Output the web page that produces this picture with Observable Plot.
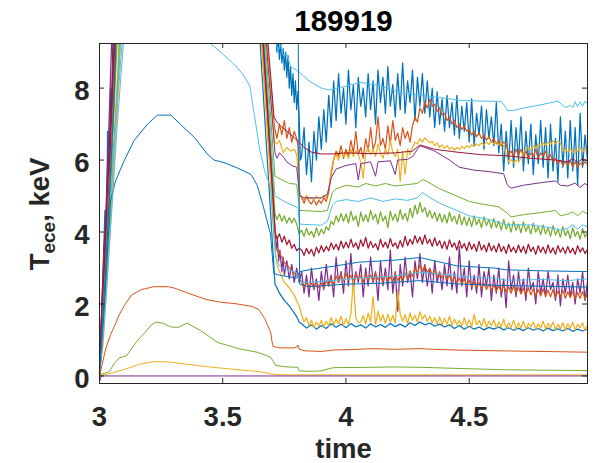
<!DOCTYPE html>
<html><head><meta charset="utf-8">
<script src="https://cdn.jsdelivr.net/npm/d3@7"></script>
<script src="https://cdn.jsdelivr.net/npm/@observablehq/plot@0.6"></script>
<style>body{margin:0;background:#fff;}</style>
</head><body><div id="chart"></div>
<script>
// ---------- tick labels / palette ----------
const xTicks = [3, 3.5, 4, 4.5];
const yTicks = [0, 2, 4, 6, 8];
const palette = ["#0072BD","#D95319","#EDB120","#7E2F8E","#77AC30","#4DBEEE","#A2142F"];

// ---------- sample times of the noisy part ----------
const tFine = [
3.82,3.83,3.84,3.85,3.86,3.87,3.88,3.89,
3.90,3.91,3.92,3.93,3.94,3.95,3.96,3.97,3.98,3.99,
4.00,4.01,4.02,4.03,4.04,4.05,4.06,4.07,4.08,4.09,
4.10,4.11,4.12,4.13,4.14,4.15,4.16,4.17,4.18,4.19,
4.20,4.21,4.22,4.23,4.24,4.25,4.26,4.27,4.28,4.29,
4.30,4.31,4.32,4.33,4.34,4.35,4.36,4.37,4.38,4.39,
4.40,4.41,4.42,4.43,4.44,4.45,4.46,4.47,4.48,4.49,
4.50,4.51,4.52,4.53,4.54,4.55,4.56,4.57,4.58,4.59,
4.60,4.61,4.62,4.63,4.64,4.65,4.66,4.67,4.68,4.69,
4.70,4.71,4.72,4.73,4.74,4.75,4.76,4.77,4.78,4.79,
4.80,4.81,4.82,4.83,4.84,4.85,4.86,4.87,4.88,4.89,
4.90,4.91,4.92,4.93,4.94,4.95,4.96,4.97,4.98];
const tCoarse = [
3.82,3.84,3.86,3.88,3.90,3.92,3.94,3.96,3.98,4.00,
4.02,4.04,4.06,4.08,4.10,4.12,4.14,4.16,4.18,4.20,
4.22,4.24,4.26,4.28,4.30,4.32,4.34,4.36,4.38,4.40,
4.42,4.44,4.46,4.48,4.50,4.52,4.54,4.56,4.58,4.60,
4.62,4.64,4.66,4.68,4.70,4.72,4.74,4.76,4.78,4.80,
4.82,4.84,4.86,4.88,4.90,4.92,4.94,4.96,4.98];

// ---------- channel B1 (blue, top noisy) ----------
const b1Pts = [[3.0,0.2],[3.008,1.5],[3.015,3.0],[3.022,4.6],[3.028,4.0],[3.033,6.8],[3.038,5.6],[3.045,8.0],[3.05,7.0],[3.06,10.5],[3.4,11],[3.70,11],[3.715,9.6],[3.72,9.0],[3.725,9.4],[3.73,8.8],[3.735,9.3],[3.74,8.7],[3.745,9.1],[3.75,8.5],[3.755,9.0],[3.76,8.3],[3.765,8.9],[3.77,8.0],[3.775,8.6],[3.78,7.8],[3.785,8.4],[3.79,7.6],[3.795,8.2],[3.80,7.4],[3.805,7.9],[3.81,7.2],[3.815,6.0]];
const b1Noise = [
6.1,6.9,5.6,6.5,5.4,6.8,6.0,7.2,
6.3,7.4,6.5,7.8,6.9,8.2,7.1,8.4,7.3,8.0,
7.0,8.5,7.4,8.1,6.9,8.3,7.5,8.0,7.2,8.4,
7.4,8.2,7.0,8.5,7.6,8.3,7.3,8.6,7.5,8.1,
7.2,8.4,7.4,8.7,7.3,8.2,7.6,8.5,7.1,8.3,
7.5,8.4,7.3,8.2,7.2,8.0,6.9,7.9,7.0,7.7,
6.8,7.8,6.9,7.6,6.7,7.8,6.6,7.5,6.8,7.6,
6.5,7.7,6.4,7.3,6.7,7.5,6.3,7.4,6.6,7.2,
6.4,7.6,6.2,7.0,5.7,6.8,5.9,7.1,5.8,6.9,
6.0,7.2,5.7,6.8,5.9,7.0,5.6,6.7,5.9,7.1,
5.8,6.9,5.5,7.0,5.7,6.6,5.4,7.2,5.8,6.8,
5.5,7.1,5.7,6.9,5.3,7.3,5.8,6.7,6.0];

// ---------- channel O1 (orange, upper noisy) ----------
const o1Pts = [[3.0,0.1],[3.01,1.3],[3.02,2.8],[3.03,3.9],[3.04,5.2],[3.05,6.6],[3.06,8.2],[3.07,10.5],[3.4,11],[3.67,10],[3.71,6.9],[3.72,6.6],[3.73,7.0],[3.74,6.7],[3.75,7.1],[3.76,6.6],[3.77,6.9],[3.78,6.5],[3.79,6.8],[3.80,6.6],[3.805,6.4],[3.812,5.1]];
const o1Noise = [
4.95,4.80,5.00,4.85,4.78,4.92,4.75,4.88,
4.80,4.95,4.85,5.10,5.60,6.00,6.25,6.10,6.40,6.05,
6.30,6.10,6.55,6.20,6.80,6.15,6.35,6.05,6.60,6.25,
6.90,6.30,6.50,7.20,6.40,6.60,6.30,6.95,6.45,7.10,
6.55,6.75,6.40,6.90,6.60,6.80,6.50,6.95,7.20,7.05,
7.45,7.30,7.60,7.45,7.70,7.50,7.55,7.35,7.45,7.25,
7.30,7.10,7.20,7.00,7.10,6.90,7.00,6.85,6.95,6.80,
6.85,6.70,6.80,6.65,6.75,6.60,6.70,6.55,6.65,6.50,
6.60,6.45,6.55,6.40,6.50,6.45,6.15,6.25,6.10,6.30,
6.15,6.30,6.10,6.25,6.05,6.20,6.10,6.30,6.05,6.20,
6.10,6.25,6.00,6.15,5.95,6.05,5.90,6.00,5.85,5.95,
5.85,5.98,5.82,5.95,5.80,5.92,5.85,5.96,5.88];

// ---------- channel Y1 (yellow, upper noisy) ----------
const y1Pts = [[3.0,0.0],[3.012,1.0],[3.025,2.2],[3.038,3.8],[3.05,5.4],[3.062,7.0],[3.075,8.6],[3.085,10.5],[3.4,11],[3.672,10],[3.71,6.5],[3.72,6.45],[3.73,6.55],[3.745,6.2],[3.76,6.35],[3.775,6.25],[3.79,6.3],[3.80,6.15],[3.812,5.1]];
const y1Noise = [
4.98,4.90,5.02,4.92,4.96,4.88,5.00,4.92,
4.95,5.02,4.95,5.20,5.70,6.05,6.15,6.00,6.25,6.10,
6.20,6.05,6.30,6.10,6.25,6.15,5.95,5.50,6.20,6.35,
6.15,6.30,6.10,6.45,6.20,6.05,6.30,6.15,6.55,6.20,
6.10,6.30,5.40,6.25,5.60,6.30,6.15,6.35,6.50,6.45,
6.60,6.50,6.62,6.55,6.48,6.52,6.40,6.48,6.35,6.42,
6.32,6.40,6.30,6.36,6.28,6.35,6.30,6.38,6.32,6.40,
6.35,6.42,6.38,6.45,6.40,6.48,6.42,6.50,6.44,6.52,
6.45,6.50,6.42,6.48,6.40,6.15,5.95,6.02,5.92,6.00,
5.95,6.05,6.20,6.30,6.35,6.28,6.40,6.32,6.45,6.38,
6.48,6.40,6.50,6.42,6.55,6.45,6.52,6.48,6.25,6.30,
6.22,6.32,6.20,6.28,6.25,6.35,6.22,6.30,6.26];

// ---------- channel P1 (purple, upper) ----------
const p1Pts = [[3.0,-0.1],[3.01,1.6],[3.02,2.5],[3.03,4.2],[3.04,5.6],[3.05,7.4],[3.06,8.8],[3.068,10.5],[3.4,11],[3.668,10],[3.712,6.2],[3.72,6.05],[3.73,6.2],[3.745,6.1],[3.76,5.95],[3.78,5.85],[3.80,5.8],[3.812,5.0],[3.83,4.95],[3.90,4.95],[3.925,5.05],[3.94,5.5],[3.96,5.75],[4.00,5.85],[4.04,5.9],[4.05,5.45],[4.06,5.9],[4.10,5.95],[4.12,5.55],[4.13,5.95],[4.18,5.98],[4.20,5.6],[4.21,6.0],[4.25,6.02],[4.27,6.1],[4.30,6.4],[4.32,6.35],[4.36,6.25],[4.42,6.0],[4.46,5.8],[4.52,5.72],[4.58,5.68],[4.64,5.62],[4.655,5.3],[4.67,5.22],[4.72,5.3],[4.80,5.38],[4.85,5.42],[4.87,5.3],[4.90,5.28],[4.93,5.36],[4.95,5.24],[4.97,5.35],[4.98,5.3]];

// ---------- channel G1 (green, upper) ----------
const g1Pts = [[3.0,0.0],[3.015,1.2],[3.03,2.9],[3.045,4.6],[3.06,6.4],[3.075,8.3],[3.09,10.5],[3.4,11],[3.665,10],[3.712,5.55],[3.74,5.45],[3.77,5.35],[3.80,5.33],[3.812,4.6],[3.90,4.57],[3.925,4.6],[3.945,5.1],[3.96,5.2],[4.0,5.3],[4.05,5.25],[4.08,5.35],[4.12,5.28],[4.16,5.35],[4.2,5.28],[4.25,5.32],[4.29,5.35],[4.31,5.46],[4.33,5.4],[4.38,5.2],[4.45,5.0],[4.5,4.85],[4.55,4.78],[4.62,4.7],[4.65,4.55],[4.67,4.42],[4.72,4.48],[4.80,4.55],[4.85,4.6],[4.87,4.45],[4.90,4.5],[4.92,4.56],[4.94,4.45],[4.96,4.58],[4.98,4.5]];

// ---------- channel LB0 (light blue, top) ----------
const lb0Pts = [[3.0,0.3],[3.01,1.8],[3.025,3.4],[3.04,5.0],[3.06,6.6],[3.08,8.2],[3.1,10.0],[3.4,11],[3.69,11],[3.715,9.3],[3.725,9.05],[3.735,9.2],[3.745,8.9],[3.76,8.95],[3.775,8.6],[3.81,8.45],[3.85,8.2],[3.90,8.0],[3.93,7.95],[3.98,8.02],[4.06,8.16],[4.14,8.06],[4.22,7.88],[4.30,7.8],[4.38,7.74],[4.46,7.66],[4.55,7.64],[4.63,7.63],[4.645,7.5],[4.655,7.37],[4.68,7.38],[4.71,7.43],[4.80,7.55],[4.86,7.64],[4.875,7.55],[4.89,7.46],[4.91,7.52],[4.92,7.45],[4.93,7.62],[4.94,7.48],[4.95,7.62],[4.96,7.5],[4.97,7.64],[4.98,7.56]];

// ---------- channel R1 (dark red, upper) ----------
const r1Pts = [[3.0,0.1],[3.008,1.8],[3.018,3.6],[3.026,4.4],[3.034,5.8],[3.042,6.4],[3.05,8.0],[3.058,10.5],[3.4,11],[3.675,10],[3.708,7.2],[3.72,7.05],[3.735,6.95],[3.76,6.8],[3.785,6.65],[3.81,6.5],[3.83,6.35],[3.86,6.22],[3.9,6.17],[3.95,6.17],[4.0,6.2],[4.1,6.18],[4.2,6.2],[4.27,6.25],[4.30,6.42],[4.32,6.38],[4.36,6.3],[4.45,6.22],[4.55,6.15],[4.65,6.12],[4.75,6.05],[4.85,6.0],[4.90,5.95],[4.92,6.05],[4.94,5.93],[4.96,6.04],[4.98,5.97]];

// ---------- channel B3 (blue, low noisy) ----------
const b3Pts = [[3.0,0.0],[3.01,1.0],[3.022,2.4],[3.034,4.1],[3.046,5.7],[3.058,7.5],[3.07,10.0],[3.4,11],[3.645,10],[3.712,2.55],[3.72,2.45],[3.73,2.3],[3.75,2.1],[3.77,1.95],[3.79,1.75],[3.80,1.65],[3.81,1.5]];
const b3Noise = [
1.45,1.33,1.42,1.30,1.40,1.32,1.45,1.35,1.44,1.34,
1.46,1.36,1.42,1.33,1.45,1.36,1.43,1.35,1.46,1.37,
1.44,1.36,1.48,1.40,1.50,1.42,1.47,1.38,1.44,1.36,
1.42,1.32,1.40,1.30,1.38,1.30,1.36,1.28,1.35,1.30,
1.36,1.28,1.34,1.27,1.33,1.26,1.34,1.27,1.32,1.25,
1.33,1.26,1.31,1.25,1.32,1.24,1.30,1.25,1.30];

// ---------- channel P2 (purple, mid noisy) ----------
const p2Pts = [[3.0,-0.15],[3.006,1.2],[3.014,2.3],[3.022,3.8],[3.03,5.3],[3.038,6.9],[3.046,8.6],[3.055,10.5],[3.4,11],[3.655,10],[3.712,4.0],[3.717,3.5],[3.722,3.8],[3.727,3.2],[3.732,3.5],[3.74,2.9],[3.745,3.3],[3.75,2.8],[3.76,3.2],[3.77,2.7],[3.78,3.1],[3.79,2.6],[3.80,3.0],[3.81,2.6]];
const p2Noise = [
2.9,2.3,2.8,2.2,3.0,2.4,2.7,2.1,
2.9,2.4,3.1,2.5,2.8,2.2,3.3,2.6,2.9,2.3,
3.2,2.5,3.4,2.4,2.9,2.6,3.1,2.2,3.0,2.5,
3.3,2.6,2.9,2.1,3.2,2.5,3.0,2.4,3.5,2.3,
2.9,1.8,3.1,2.5,3.3,2.6,2.9,2.2,3.2,2.7,
3.4,2.6,3.1,2.5,3.0,2.3,3.2,2.6,2.9,2.4,
3.1,2.5,3.3,2.4,2.9,2.3,3.6,2.5,3.0,2.2,
3.2,2.4,2.8,2.3,3.1,2.2,2.9,2.5,3.0,2.1,
2.8,2.3,3.0,2.2,2.7,1.9,3.2,2.4,2.8,2.2,
2.9,2.3,2.7,2.1,3.0,2.4,2.6,2.0,2.9,2.3,
2.7,2.2,2.9,2.4,2.6,2.1,2.8,1.95,2.7,2.3,
2.8,2.2,2.6,2.0,2.7,2.3,2.9,2.1,2.6];

// ---------- channel O2 (orange, mid noisy) ----------
const o2Pts = [[3.0,0.0],[3.012,1.4],[3.024,2.9],[3.036,4.7],[3.048,6.3],[3.06,8.0],[3.072,10.5],[3.4,11],[3.652,10],[3.714,3.6],[3.72,3.5],[3.73,3.4],[3.74,3.3],[3.75,3.15],[3.76,3.1],[3.77,3.0],[3.78,2.95],[3.79,2.85],[3.80,2.8],[3.81,2.7]];
const o2Noise = [
2.62,2.45,2.60,2.48,2.58,2.42,2.62,2.46,
2.58,2.44,2.65,2.50,2.70,2.55,2.78,2.60,2.82,2.64,
2.86,2.66,2.80,2.62,2.85,2.68,2.78,2.60,2.84,2.66,
2.80,2.62,2.86,2.68,2.78,2.60,2.82,2.65,2.76,2.62,
2.84,2.66,2.78,2.62,2.86,2.70,2.92,2.76,3.00,2.84,
3.08,2.92,3.06,2.88,2.98,2.82,2.94,2.76,2.88,2.72,
2.86,2.68,2.80,2.62,2.76,2.58,2.72,2.55,2.70,2.52,
2.66,2.48,2.62,2.45,2.60,2.42,2.58,2.40,2.55,2.38,
2.54,2.36,2.50,2.34,2.52,2.32,2.48,2.30,2.50,2.32,
2.46,2.28,2.44,2.26,2.46,2.25,2.42,2.24,2.40,2.22,
2.42,2.22,2.38,2.20,2.40,2.18,2.36,2.20,2.38,2.16,
2.34,2.18,2.36,2.15,2.32,2.16,2.35,2.14,2.30];

// ---------- channel Y2 (yellow, low noisy) ----------
const y2Pts = [[3.0,0.1],[3.015,0.9],[3.03,2.6],[3.045,4.3],[3.06,6.0],[3.075,7.8],[3.09,10.0],[3.4,11],[3.65,10],[3.714,3.4],[3.72,3.1],[3.73,2.9],[3.75,2.6],[3.77,2.45],[3.79,2.25],[3.80,2.1],[3.81,1.95]];
const y2Noise = [
1.70,1.50,1.62,1.40,1.55,1.35,1.50,1.38,
1.55,1.36,1.52,1.40,1.62,1.42,1.58,1.45,1.66,1.40,
1.60,1.44,1.72,2.65,1.62,1.48,1.50,1.68,1.45,1.75,
1.50,2.20,1.42,1.80,1.52,1.70,1.46,1.72,1.50,1.68,
1.48,2.38,1.72,1.52,1.70,1.45,1.75,1.55,1.68,1.50,
1.78,1.58,1.70,1.52,1.66,1.48,1.62,1.45,1.64,1.42,
1.60,1.44,1.66,1.40,1.58,1.42,1.55,1.38,1.62,1.40,
1.56,1.36,1.72,1.42,1.55,1.38,1.60,1.35,1.52,1.40,
1.56,1.34,1.50,1.36,1.58,1.32,1.48,1.35,1.55,1.30,
1.48,1.34,1.52,1.30,1.46,1.36,1.50,1.30,1.45,1.33,
1.52,1.30,1.46,1.34,1.50,1.28,1.44,1.32,1.48,1.28,
1.45,1.32,1.50,1.28,1.44,1.34,1.48,1.26,1.42];

// ---------- channel G2 (green, mid noisy) ----------
const g2Pts = [[3.0,0.0],[3.013,1.6],[3.026,3.3],[3.04,4.9],[3.053,6.6],[3.066,8.5],[3.08,10.5],[3.4,11],[3.66,10],[3.712,4.5],[3.72,4.35],[3.73,4.5],[3.74,4.3],[3.75,4.45],[3.76,4.25],[3.77,4.4],[3.78,4.25],[3.79,4.38],[3.80,4.22],[3.81,3.95]];
const g2Noise = [
4.05,3.88,4.10,3.92,4.02,3.85,4.12,3.90,
4.08,3.95,4.15,4.05,4.30,4.20,4.45,4.28,4.52,4.30,
4.50,4.25,4.58,4.32,4.45,4.15,4.55,4.30,4.48,4.28,
4.60,4.35,4.50,4.22,4.56,4.30,4.45,4.12,4.58,4.33,
4.50,4.28,4.62,4.35,4.52,4.30,4.66,4.40,4.75,4.50,
4.82,4.55,4.68,4.42,4.60,4.38,4.55,4.30,4.52,4.28,
4.48,4.25,4.55,4.30,4.45,4.22,4.50,4.20,4.42,4.18,
4.40,4.15,4.45,4.20,4.36,4.12,4.42,4.18,4.35,4.10,
4.38,4.12,4.30,4.05,4.35,4.08,4.25,4.00,4.30,4.05,
4.22,3.98,4.28,4.02,4.18,3.95,4.25,4.00,4.15,3.92,
4.20,3.95,4.12,3.88,4.18,3.92,4.08,3.85,4.15,3.90,
4.05,3.82,4.12,3.88,4.02,3.80,4.10,3.86,3.98];

// ---------- channel LB2 (light blue, mid) ----------
const lb2Pts = [[3.0,0.2],[3.012,1.3],[3.026,2.8],[3.042,4.5],[3.058,6.3],[3.075,8.1],[3.095,10.5],[3.4,11],[3.662,10],[3.712,5.0],[3.75,4.85],[3.78,4.75],[3.805,4.68],[3.812,4.22],[3.90,4.19],[3.925,4.3],[3.945,4.75],[3.96,4.85],[4.0,4.9],[4.05,4.85],[4.1,4.95],[4.15,4.85],[4.2,4.92],[4.25,4.88],[4.29,4.95],[4.31,5.1],[4.33,5.0],[4.38,4.8],[4.45,4.6],[4.5,4.45],[4.58,4.35],[4.63,4.25],[4.65,4.2],[4.75,4.2],[4.85,4.1],[4.87,4.05],[4.9,4.1],[4.92,4.2],[4.94,4.08],[4.96,4.2],[4.98,4.14]];

// ---------- channel R2 (dark red, mid noisy) ----------
const r2Pts = [[3.0,0.0],[3.01,2.0],[3.02,3.1],[3.03,4.9],[3.04,6.0],[3.05,7.8],[3.06,9.3],[3.065,10.5],[3.4,11],[3.658,10],[3.713,4.0],[3.72,3.8],[3.73,3.95],[3.74,3.72],[3.75,3.88],[3.76,3.65],[3.77,3.78],[3.78,3.55],[3.79,3.66],[3.80,3.48],[3.81,3.55]];
const r2Noise = [
3.50,3.35,3.55,3.40,3.52,3.33,3.58,3.42,
3.62,3.45,3.60,3.48,3.70,3.52,3.66,3.50,3.75,3.55,
3.72,3.56,3.80,3.58,3.70,3.52,3.78,3.60,3.85,3.55,
3.74,3.57,3.68,3.50,3.80,3.58,3.72,3.55,3.82,3.60,
3.70,3.54,3.76,3.58,3.88,3.62,3.80,3.66,3.90,3.70,
3.86,3.66,3.92,3.68,3.80,3.60,3.84,3.62,3.76,3.55,
3.74,3.52,3.78,3.58,3.70,3.50,3.76,3.55,3.68,3.48,
3.72,3.52,3.66,3.46,3.74,3.50,3.64,3.45,3.70,3.48,
3.62,3.44,3.68,3.46,3.60,3.40,3.66,3.45,3.58,3.42,
3.64,3.44,3.60,3.40,3.66,3.46,3.58,3.38,3.62,3.44,
3.58,3.40,3.64,3.42,3.56,3.38,3.62,3.44,3.57,3.40,
3.60,3.42,3.55,3.38,3.62,3.44,3.56,3.40,3.52];

// ---------- channel B2 (blue, early hump) ----------
const b2Pts = [[3.0,0.0],[3.01,0.8],[3.02,2.0],[3.03,3.2],[3.045,4.87],[3.065,5.42],[3.10,5.98],[3.14,6.54],[3.195,7.0],[3.235,7.25],[3.29,7.25],[3.335,6.95],[3.385,6.63],[3.437,6.17],[3.465,6.0],[3.505,5.93],[3.56,5.78],[3.615,5.6],[3.64,5.3],[3.665,4.7],[3.694,3.94],[3.707,2.85],[3.73,2.8],[3.80,2.72],[3.812,2.9],[3.85,2.95],[3.95,3.05],[4.05,3.16],[4.2,3.22],[4.3,3.29],[4.45,3.06],[4.6,3.0],[4.65,2.95],[4.8,2.92],[4.98,2.9]];

// ---------- channel LB1 (light blue, descends at 3.45) ----------
const lb1Pts = [[3.0,0.1],[3.015,1.1],[3.03,2.5],[3.05,4.6],[3.07,6.8],[3.09,8.6],[3.11,10.5],[3.3,11],[3.40,9.6],[3.45,9.24],[3.50,8.95],[3.545,8.67],[3.58,8.4],[3.61,8.06],[3.625,7.4],[3.65,6.3],[3.67,5.7],[3.694,5.24],[3.705,4.13],[3.715,3.3],[3.73,3.05],[3.76,2.95],[3.80,2.88],[3.812,2.62],[3.85,2.6],[3.95,2.65],[4.05,2.72],[4.2,2.78],[4.3,2.88],[4.4,2.82],[4.5,2.75],[4.6,2.72],[4.65,2.66],[4.8,2.68],[4.9,2.65],[4.98,2.7]];

// ---------- channel B4 (blue, late drop) ----------
const b4Pts = [[3.0,0.0],[3.011,1.3],[3.023,2.7],[3.035,4.3],[3.047,5.9],[3.06,7.8],[3.072,10.5],[3.4,11],[3.805,11],[3.812,2.55],[3.85,2.48],[4.0,2.55],[4.15,2.58],[4.3,2.65],[4.45,2.56],[4.6,2.52],[4.75,2.5],[4.98,2.47]];

// ---------- low channels ----------
const o3Pts = [[3.0,0.0],[3.01,0.3],[3.025,0.75],[3.045,1.15],[3.065,1.45],[3.08,1.7],[3.10,1.95],[3.13,2.25],[3.17,2.4],[3.22,2.48],[3.28,2.48],[3.30,2.45],[3.36,2.3],[3.43,2.13],[3.49,2.05],[3.55,2.01],[3.62,1.93],[3.645,1.85],[3.67,1.6],[3.695,1.2],[3.70,0.95],[3.705,0.82],[3.73,0.78],[3.79,0.78],[3.80,0.8],[3.805,0.86],[3.81,0.75],[3.83,0.7],[3.90,0.68],[3.95,0.72],[4.05,0.74],[4.10,0.76],[4.2,0.74],[4.3,0.76],[4.35,0.74],[4.45,0.72],[4.6,0.7],[4.8,0.68],[4.98,0.66]];
const g3Pts = [[3.0,0.0],[3.01,0.05],[3.04,0.12],[3.06,0.35],[3.08,0.5],[3.11,0.56],[3.15,0.95],[3.19,1.25],[3.21,1.42],[3.23,1.5],[3.26,1.46],[3.29,1.36],[3.32,1.35],[3.355,1.47],[3.41,1.26],[3.48,0.93],[3.57,0.75],[3.64,0.66],[3.695,0.52],[3.715,0.29],[3.76,0.25],[3.805,0.24],[3.81,0.14],[3.85,0.13],[3.90,0.14],[3.93,0.2],[3.95,0.23],[4.1,0.24],[4.2,0.25],[4.3,0.24],[4.5,0.2],[4.65,0.17],[4.98,0.15]];
const y3Pts = [[3.0,0.0],[3.02,0.03],[3.05,0.08],[3.10,0.18],[3.16,0.32],[3.22,0.4],[3.28,0.39],[3.35,0.33],[3.43,0.26],[3.55,0.18],[3.65,0.12],[3.70,0.05],[3.75,0.03],[4.98,0.03]];
const p3Pts = [[3.0,-0.15],[3.008,0.0],[4.98,0.0]];

// ---------- assemble (draw order) ----------
function pair(ts, vs) { const n = Math.min(ts.length, vs.length); const out = []; for (let i = 0; i < n; i++) out.push([ts[i], vs[i]]); return out; }
const series = [
  {pts: b1Pts.concat(pair(tFine, b1Noise)), c: palette[0], w: 1.25},
  {pts: o1Pts.concat(pair(tFine, o1Noise)), c: palette[1], w: 1.2},
  {pts: y1Pts.concat(pair(tFine, y1Noise)), c: palette[2], w: 1.2},
  {pts: p1Pts, c: palette[3], w: 1},
  {pts: g1Pts, c: palette[4], w: 1},
  {pts: lb0Pts, c: palette[5], w: 1},
  {pts: r1Pts, c: palette[6], w: 1},
  {pts: b3Pts.concat(pair(tCoarse, b3Noise)), c: palette[0], w: 1.2},
  {pts: p2Pts.concat(pair(tFine, p2Noise)), c: palette[3], w: 1.25},
  {pts: o2Pts.concat(pair(tFine, o2Noise)), c: palette[1], w: 1.25},
  {pts: y2Pts.concat(pair(tFine, y2Noise)), c: palette[2], w: 1.25},
  {pts: g2Pts.concat(pair(tFine, g2Noise)), c: palette[4], w: 1.25},
  {pts: lb2Pts, c: palette[5], w: 1},
  {pts: r2Pts.concat(pair(tFine, r2Noise)), c: palette[6], w: 1.25},
  {pts: b2Pts, c: palette[0], w: 1},
  {pts: lb1Pts, c: palette[5], w: 1},
  {pts: b4Pts, c: palette[0], w: 1},
  {pts: o3Pts, c: palette[1], w: 1},
  {pts: y3Pts, c: palette[2], w: 1},
  {pts: g3Pts, c: palette[4], w: 1},
  {pts: p3Pts, c: palette[3], w: 1}
];

const font = "'Liberation Sans', Arial, Helvetica, sans-serif";
const axisCol = "#262626";
const fs = 27.5;
const chart = Plot.plot({
  width: 596, height: 463,
  marginLeft: 99, marginRight: 9, marginTop: 43, marginBottom: 80,
  x: {domain: [3, 4.98]},
  y: {domain: [-0.21, 9.24]},
  style: {fontFamily: font, fontSize: fs + "px", fontWeight: "bold", color: axisCol, background: "#fff"},
  marks: [
    ...series.map(s => Plot.line(s.pts, {x: d => d[0], y: d => d[1], stroke: s.c, strokeWidth: s.w, clip: true})),
    Plot.frame({stroke: axisCol, strokeWidth: 1}),
    Plot.tickX(xTicks, {x: d => d, insetTop: 335, stroke: axisCol}),
    Plot.tickX(xTicks, {x: d => d, insetBottom: 335, stroke: axisCol}),
    Plot.tickY(yTicks, {y: d => d, insetRight: 483, stroke: axisCol}),
    Plot.tickY(yTicks, {y: d => d, insetLeft: 483, stroke: axisCol}),
    Plot.axisX({ticks: xTicks, tickFormat: d => String(d), tickSize: 0, tickPadding: 23, label: null, fontSize: fs, fontWeight: "bold", fill: axisCol}),
    Plot.axisY({ticks: yTicks, tickFormat: d => String(d), tickSize: 0, tickPadding: 10, label: null, dy: 3, fontSize: fs, fontWeight: "bold", fill: axisCol}),
    Plot.text(["189919"], {frameAnchor: "top", lineAnchor: "top", text: d => d, dy: -33, fontSize: 29.5, fontWeight: "bold", fill: "#000"}),
    Plot.text(["time"], {frameAnchor: "bottom", lineAnchor: "bottom", text: d => d, dy: 74, fontSize: fs, fontWeight: "bold", fill: axisCol})
  ]
});
document.getElementById("chart").appendChild(chart);

// y label with subscript
const svg = d3.select(chart);
const yl = svg.append("text")
  .attr("transform", "translate(49,214) rotate(-90)")
  .attr("text-anchor", "middle")
  .attr("font-family", font).attr("font-size", fs).attr("font-weight", "bold").attr("fill", axisCol);
yl.append("tspan").text("T");
yl.append("tspan").attr("font-size", 19).attr("dy", 6).text("ece");
yl.append("tspan").attr("dy", -6).text(", keV");
</script>
</body></html>
